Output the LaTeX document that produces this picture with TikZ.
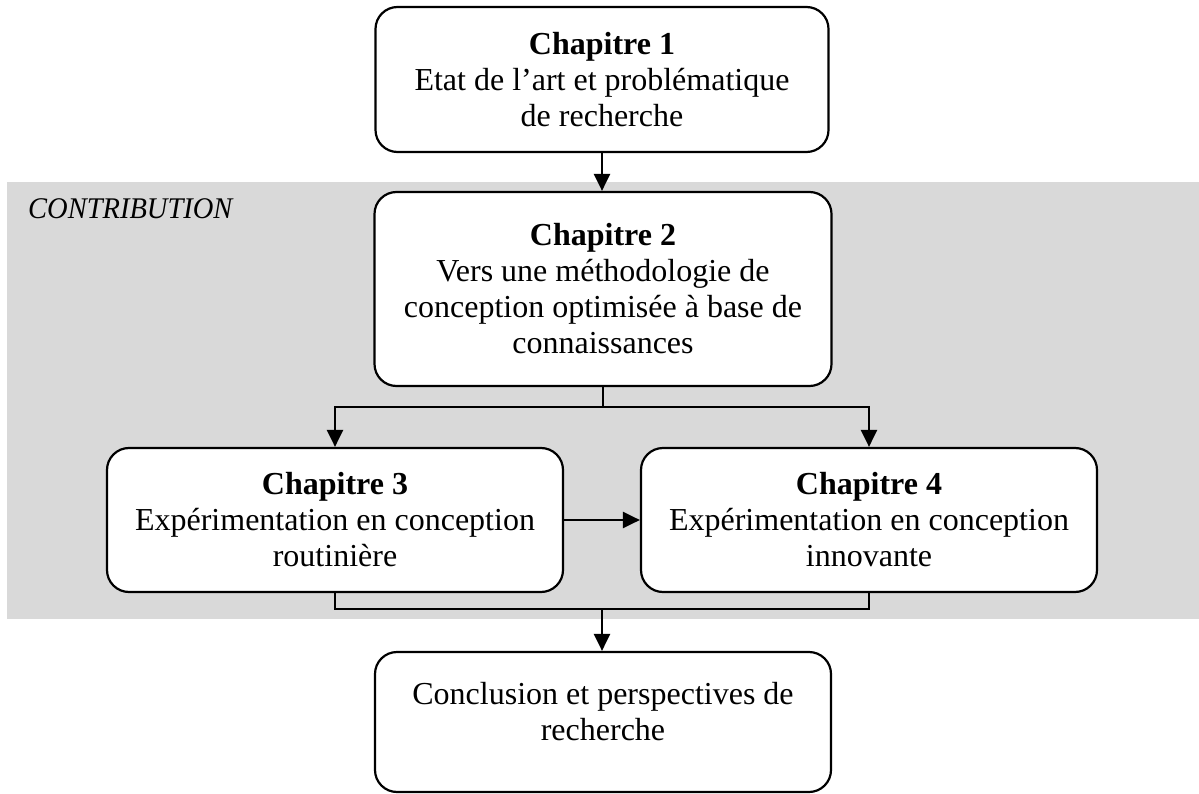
\documentclass[tikz,border=0pt]{standalone}
\usepackage{fontspec}
\setmainfont{Liberation Serif}
\usetikzlibrary{arrows.meta,calc}
\definecolor{bandgray}{RGB}{217,217,217}
\tikzset{
  chapbox/.style={draw=black, line width=2.2pt, fill=white, rounded corners=22pt,
    inner sep=0pt, align=center, font=\fontsize{32}{36}\selectfont},
  link/.style={line width=2.4pt},
  arr/.style={line width=2.4pt, -{Triangle[width=16pt,length=17pt]}}
}
\begin{document}
\begin{tikzpicture}[x=1pt,y=-1pt]
\useasboundingbox (0,0) rectangle (1199,794);
% band
\fill[bandgray] (7,182) rectangle (1199,619);
\node[anchor=base west, font=\fontsize{30}{35}\selectfont\itshape, inner sep=0pt] (contrib) at (28,219) {\scalebox{0.95}[1]{CONTRIBUTION}};
% boxes
\node[chapbox, minimum width=453pt, minimum height=145pt] (b1) at (602,79.5)
  {\textbf{Chapitre 1}\\Etat de l’art et problématique\\de recherche};
\node[chapbox, minimum width=457pt, minimum height=194pt] (b2) at (603,289)
  {\textbf{Chapitre 2}\\Vers une méthodologie de\\conception optimisée à base de\\connaissances};
\node[chapbox, minimum width=456pt, minimum height=144pt] (b3) at (335,520)
  {\textbf{Chapitre 3}\\Expérimentation en conception\\routinière};
\node[chapbox, minimum width=456pt, minimum height=144pt] (b4) at (869,520)
  {\textbf{Chapitre 4}\\Expérimentation en conception\\innovante};
\node[chapbox, minimum width=456pt, minimum height=140pt] (b5) at (603,722)
  {\rule{0pt}{47pt}Conclusion et perspectives de\\recherche\\\strut};
% connectors
\draw[arr] (b1.south) -- (b1.south |- b2.north);
\coordinate (j1) at ($(b2.south)+(0,20)$);
\draw[link] (b2.south) -- (j1);
\draw[arr] (j1) -| (b3.north);
\draw[arr] (j1) -| (b4.north);
\draw[arr] (b3.east) -- (b4.west);
\draw[link] (b3.south) -- ++(0,16) -| (b4.south);
\coordinate (j2) at ($(b3.south)!0.5!(b4.south)+(0,16)$);
\draw[arr] (j2) -- (j2 |- b5.north);
\end{tikzpicture}
\end{document}
